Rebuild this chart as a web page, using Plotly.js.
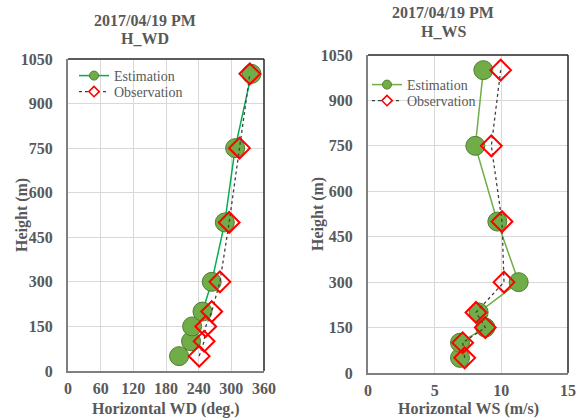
<!DOCTYPE html>
<html>
<head>
<meta charset="utf-8">
<script src="https://cdn.plot.ly/plotly-3.0.1.min.js"></script>
<style>html,body{margin:0;padding:0;background:#fff;}#chart{width:584px;height:418px;}</style>
</head>
<body>
<div id="chart"></div>
<script>
// Heights (m)
const heights = [50, 100, 150, 200, 300, 500, 750, 1000];
// Horizontal wind direction (deg.)
const wdEstimation = [204, 226, 228, 247, 264, 288, 307, 337];
const wdObservation = [241, 250, 253, 264, 279, 296, 315, 334];
// Horizontal wind speed (m/s)
const wsEstimation = [6.9, 6.9, 8.8, 8.3, 11.3, 9.7, 8.05, 8.65];
const wsObservation = [7.25, 7.1, 8.8, 8.1, 10.2, 10.05, 9.25, 9.95];
const seriesNames = ['Estimation', 'Observation'];
const titleLines = [['2017/04/19 PM', 'H_WD'], ['2017/04/19 PM', 'H_WS']];
const xTitles = ['Horizontal WD (deg.)', 'Horizontal WS (m/s)'];
const yTitle = 'Height (m)';

const serif = "'Liberation Serif', 'Times New Roman', Times, serif";
const gray = '#595959';
const W = 584, H = 418;
const px = v => v / W, py = v => 1 - v / H;

const estMarker = {symbol: 'circle', size: 19, color: '#70AD47', line: {color: '#4E7D32', width: 1}};
const obsMarker = {symbol: 'diamond', size: 16, color: 'rgba(255,255,255,0)', line: {color: '#FF0000', width: 2}};
const estLegMarker = {symbol: 'circle', size: 9, color: '#70AD47', line: {color: '#4E7D32', width: 1}};
const obsLegMarker = {symbol: 'diamond', size: 8, color: '#ffffff', line: {color: '#FF0000', width: 1.5}};
const obsLine = {color: '#404040', width: 1.3, dash: 'dot'};

function panel(xs1, xs2, xa, ya, estColor, legA, legB) {
  return [
    {x: xs1, y: heights, name: seriesNames[0], mode: 'lines+markers', xaxis: xa, yaxis: ya,
     line: {color: estColor, width: 1.5}, marker: estMarker, showlegend: false},
    {x: xs2, y: heights, name: seriesNames[1], mode: 'lines+markers', xaxis: xa, yaxis: ya,
     line: obsLine, marker: obsMarker, showlegend: false},
    // legend-only entries (small legend symbols)
    {x: [null], y: [null], name: seriesNames[0], mode: 'lines+markers', xaxis: xa, yaxis: ya,
     line: {color: estColor, width: 1.5}, marker: estLegMarker, legend: legA},
    {x: [null], y: [null], name: seriesNames[1], mode: 'lines+markers', xaxis: xa, yaxis: ya,
     line: obsLine, marker: obsLegMarker, legend: legB}
  ];
}

const traces = [].concat(
  panel(wdEstimation, wdObservation, 'x', 'y', '#00B050', 'legend', 'legend2'),
  panel(wsEstimation, wsObservation, 'x2', 'y2', '#70AD47', 'legend3', 'legend4')
);

const tickFont = {family: serif, size: 16, color: gray, weight: 'bold'};
const axBase = {showgrid: true, gridcolor: '#D9D9D9', gridwidth: 1, zeroline: false,
  showline: true, linecolor: '#808080', linewidth: 2, ticks: '', tickfont: tickFont, fixedrange: true};

const legendBase = {font: {family: serif, size: 14, color: gray}, bgcolor: 'rgba(0,0,0,0)',
  borderwidth: 0, itemsizing: 'trace', tracegroupgap: 0, xanchor: 'left', yanchor: 'top', itemwidth: 30};
function leg(x, y) { return Object.assign({}, legendBase, {x: px(x), y: py(y)}); }

const boldFont = {family: serif, size: 16, color: gray, weight: 'bold'};
function ann(text, x, y, extra) {
  return Object.assign({text: text, xref: 'paper', yref: 'paper', x: px(x), y: py(y), showarrow: false,
    font: boldFont, xanchor: 'center', yanchor: 'middle'}, extra || {});
}

const layout = {
  width: W, height: H,
  margin: {l: 0, r: 0, t: 0, b: 0},
  paper_bgcolor: '#fff', plot_bgcolor: '#fff',
  font: {family: serif, color: gray},
  xaxis: Object.assign({}, axBase, {domain: [px(68), px(264)], range: [0, 360], dtick: 60, tick0: 0, anchor: 'y', ticklabelstandoff: 2}),
  yaxis: Object.assign({}, axBase, {domain: [py(371), py(59)], range: [0, 1050], dtick: 150, tick0: 0, anchor: 'x', ticklabelstandoff: 10}),
  xaxis2: Object.assign({}, axBase, {domain: [px(368), px(568)], range: [0, 15], dtick: 5, tick0: 0, anchor: 'y2', ticklabelstandoff: 2}),
  yaxis2: Object.assign({}, axBase, {domain: [py(373), py(55)], range: [0, 1050], dtick: 150, tick0: 0, anchor: 'x2', ticklabelstandoff: 10}),
  legend: leg(74, 60),
  legend2: leg(74, 76),
  legend3: leg(367, 69),
  legend4: leg(367, 85),
  showlegend: true,
  shapes: [
    {type: 'line', xref: 'x domain', yref: 'y domain', x0: 0, x1: 1, y0: 1, y1: 1, line: {color: '#262626', width: 1.5}},
    {type: 'line', xref: 'x domain', yref: 'y domain', x0: 1, x1: 1, y0: 0, y1: 1, line: {color: '#262626', width: 1.5}},
    {type: 'line', xref: 'x2 domain', yref: 'y2 domain', x0: 0, x1: 1, y0: 1, y1: 1, line: {color: '#262626', width: 1.5}},
    {type: 'line', xref: 'x2 domain', yref: 'y2 domain', x0: 1, x1: 1, y0: 0, y1: 1, line: {color: '#262626', width: 1.5}}
  ],
  annotations: [
    ann(titleLines[0][0], 145, 20),
    ann(titleLines[0][1], 145, 38),
    ann(titleLines[1][0], 443, 13),
    ann(titleLines[1][1], 443, 32),
    ann(xTitles[0], 166, 409),
    ann(xTitles[1], 468, 409),
    ann(yTitle, 22, 215, {textangle: -90}),
    ann(yTitle, 318, 214, {textangle: -90})
  ]
};

Plotly.newPlot('chart', traces, layout, {displayModeBar: false, staticPlot: true});
</script>
</body>
</html>
